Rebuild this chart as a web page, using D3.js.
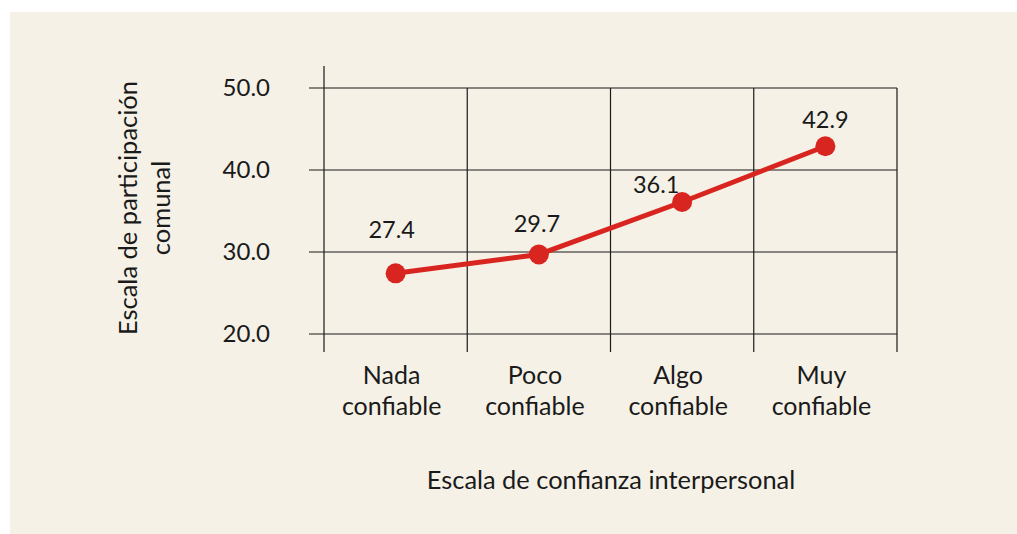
<!DOCTYPE html>
<html>
<head>
<meta charset="utf-8">
<script src="https://cdn.jsdelivr.net/npm/d3@7"></script>
<style>
  html, body { margin: 0; padding: 0; background: #ffffff; }
</style>
</head>
<body>
<div id="chart"></div>
<script>
const categories = ["Nada confiable", "Poco confiable", "Algo confiable", "Muy confiable"];
const values = [27.4, 29.7, 36.1, 42.9];
const yTicks = [20, 30, 40, 50];
const labelOffsets = [[-4, -35], [-2, -22], [-26, -9], [0, -18]];

function chart() {
    const width = 1017,
        height = 534;

    const svg = d3.select("#chart").append("svg")
        .attr("width", width)
        .attr("height", height)
        .style("font-family", "Lato, 'Open Sans', sans-serif")
        .style("fill", "#1a1a1a");

    svg.append("rect")
        .attr("x", 10).attr("y", 12)
        .attr("width", width - 10).attr("height", height - 12)
        .attr("fill", "#f5f1e6");

    const x = d3.scaleBand().domain(categories).range([324, 897]);
    const y = d3.scaleLinear().domain([20, 50]).range([334, 88]);

    const grid = svg.append("g")
        .attr("stroke", "#1a1a1a")
        .attr("stroke-width", 1.2);

    // horizontal grid lines
    grid.selectAll("line.h").data(yTicks)
        .join("line")
        .attr("class", "h")
        .attr("x1", 309).attr("x2", 897)
        .attr("y1", d => y(d)).attr("y2", d => y(d));

    // vertical lines at band boundaries
    const bounds = categories.map(c => x(c)).concat([x.range()[1]]);
    grid.selectAll("line.v").data(bounds)
        .join("line")
        .attr("class", "v")
        .attr("x1", d => d).attr("x2", d => d)
        .attr("y1", (d, i) => i === 0 ? 66 : y(50))
        .attr("y2", 352);

    // y tick labels
    svg.append("g").selectAll("text").data(yTicks)
        .join("text")
        .attr("x", 270)
        .attr("y", d => y(d) + 8)
        .attr("text-anchor", "end")
        .style("font-size", "24px")
        .text(d => d.toFixed(1));

    // x category labels
    const xl = svg.append("g").selectAll("text").data(categories)
        .join("text")
        .attr("text-anchor", "middle")
        .style("font-size", "25px");
    xl.append("tspan")
        .attr("x", d => x(d) + x.bandwidth() / 2 - 4).attr("y", 384)
        .text(d => d.split(" ")[0]);
    xl.append("tspan")
        .attr("x", d => x(d) + x.bandwidth() / 2 - 4).attr("y", 415)
        .text(d => d.split(" ")[1]);

    // axis titles
    svg.append("text")
        .attr("x", 611).attr("y", 489)
        .attr("text-anchor", "middle")
        .style("font-size", "25.4px")
        .text("Escala de confianza interpersonal");

    const yt = svg.append("text")
        .attr("transform", "translate(137,208) rotate(-90)")
        .attr("text-anchor", "middle")
        .style("font-size", "25.5px");
    yt.append("tspan").attr("x", 0).attr("y", 0).text("Escala de participación");
    yt.append("tspan").attr("x", 0).attr("y", 33).text("comunal");

    // line and points
    const pts = categories.map((c, i) => ({c: c, v: values[i], i: i}));
    const line = d3.line()
        .x(d => x(d.c) + x.bandwidth() / 2)
        .y(d => y(d.v));

    svg.append("path")
        .datum(pts)
        .attr("fill", "none")
        .attr("stroke", "#d92520")
        .attr("stroke-width", 5)
        .attr("d", line);

    svg.append("g").selectAll("circle").data(pts)
        .join("circle")
        .attr("cx", d => x(d.c) + x.bandwidth() / 2)
        .attr("cy", d => y(d.v))
        .attr("r", 10)
        .attr("fill", "#d92520");

    svg.append("g").selectAll("text").data(pts)
        .join("text")
        .attr("x", d => x(d.c) + x.bandwidth() / 2 + labelOffsets[d.i][0])
        .attr("y", d => y(d.v) + labelOffsets[d.i][1])
        .attr("text-anchor", "middle")
        .style("font-size", "23.5px")
        .text(d => d.v.toFixed(1));
}

window.onload = function() {
  chart();
};
</script>
</body>
</html>
